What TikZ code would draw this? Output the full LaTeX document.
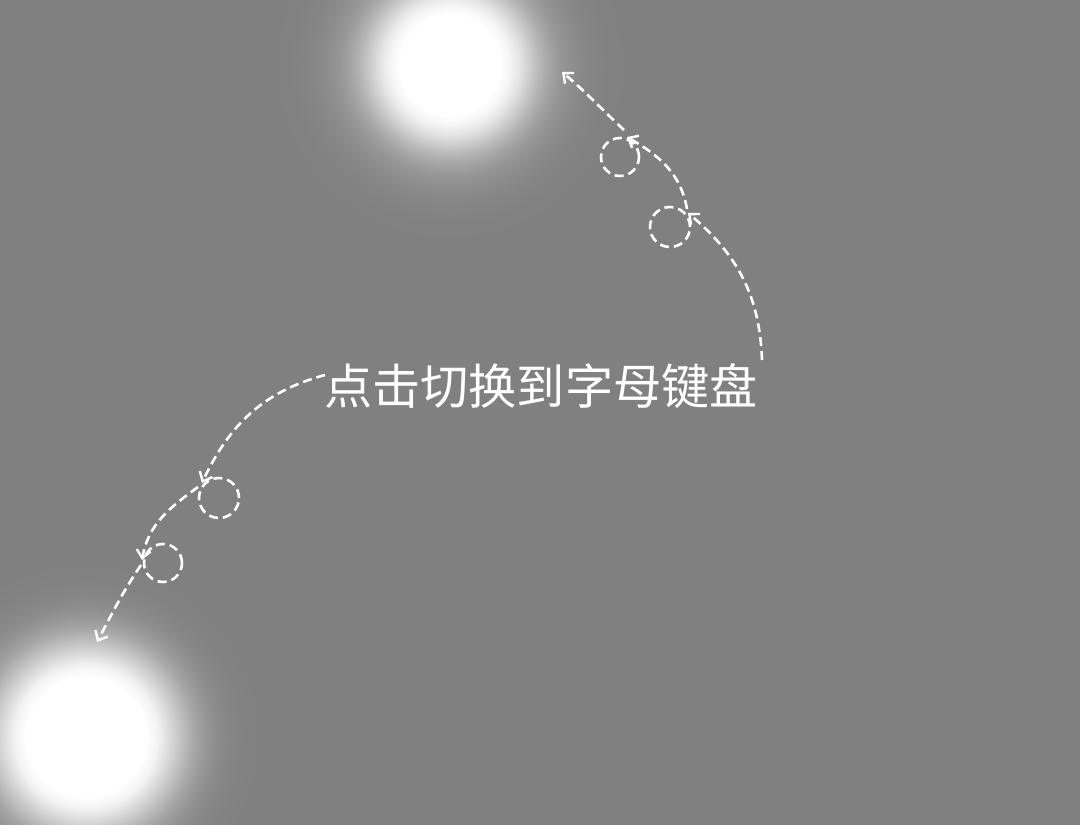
\documentclass[tikz,border=0pt]{standalone}
\usepackage{fontspec}
\newfontfamily\cjk{Noto Sans CJK SC}
\usetikzlibrary{arrows.meta}
\definecolor{bgc}{HTML}{808080}
\pgfdeclareradialshading{glowA}{\pgfpoint{0bp}{0bp}}{color(0bp)=(white); color(6.94bp)=(white); color(8.33bp)=(white!92!bgc); color(9.72bp)=(white!78!bgc); color(11.1bp)=(white!60!bgc); color(12.5bp)=(white!42!bgc); color(13.9bp)=(white!28!bgc); color(15.3bp)=(white!18!bgc); color(17.4bp)=(white!9!bgc); color(19.4bp)=(white!4!bgc); color(22.2bp)=(white!1!bgc); color(25bp)=(bgc); color(50bp)=(bgc)}
\pgfdeclareradialshading{glowB}{\pgfpoint{0bp}{0bp}}{color(0bp)=(white); color(8.57bp)=(white); color(10.29bp)=(white!90!bgc); color(12bp)=(white!70!bgc); color(13.71bp)=(white!50!bgc); color(15.43bp)=(white!31!bgc); color(17.14bp)=(white!18!bgc); color(18.86bp)=(white!9!bgc); color(20.57bp)=(white!4!bgc); color(22.29bp)=(white!2!bgc); color(25bp)=(bgc); color(50bp)=(bgc)}
\tikzset{
  dashline/.style={white, line width=2.6pt, dash pattern=on 9pt off 5pt, line cap=butt,
    -{Straight Barb[length=8pt,width=14pt,line width=2.4pt]}},
  loopc/.style={white, line width=2.6pt, dash pattern=on 9pt off 5pt},
  glownode/.style={circle, minimum size=#1, inner sep=0pt},
}
\begin{document}
\begin{tikzpicture}[x=1pt,y=1pt]
\fill[bgc] (0,0) rectangle (1080,-825);
\useasboundingbox (0,0) rectangle (1080,-825);
\clip (0,0) rectangle (1080,-825);
% glows
\node[glownode=360pt, shading=glowA] (glowtop) at (450,-65) {};
\node[glownode=350pt, shading=glowB] (glowbot) at (86,-737) {};
% label
\node[text=white, font=\cjk\fontsize{48.2}{50}\selectfont, inner sep=0pt, anchor=base] (label) at (541,-404) {点击切换到字母键盘};
% upper route
\coordinate (u0) at (762,-360);
\coordinate (u1) at (688,-213);
\coordinate (u1s) at (687,-209);
\coordinate (u2) at (627,-137);
\coordinate (u2s) at (624,-130);
\coordinate (utip) at (562,-72);
\node[circle, inner sep=0pt, minimum size=40pt] (uc1) at (670,-227) {};
\node[circle, inner sep=0pt, minimum size=38pt] (uc2) at (620,-157) {};
\draw[loopc] (uc1.center) circle (20pt);
\draw[loopc] (uc2.center) circle (19pt);
\draw[dashline] (u0) to[out=92,in=-40] (u1);
\draw[dashline] (u1s) to[out=100,in=-30] (u2);
\draw[dashline] (u2s) to[out=137,in=-40] (utip);
% lower route
\coordinate (l0) at (325,-375);
\coordinate (l1) at (202,-483);
\coordinate (l1s) at (198,-487);
\coordinate (l2) at (142,-560);
\coordinate (l2s) at (141,-565);
\coordinate (ltip) at (97,-642);
\node[circle, inner sep=0pt, minimum size=40pt] (lc1) at (219,-498) {};
\node[circle, inner sep=0pt, minimum size=38pt] (lc2) at (163,-563) {};
\draw[loopc] (lc1.center) circle (20pt);
\draw[loopc] (lc2.center) circle (19pt);
\draw[dashline] (l0) to[out=195,in=65] (l1);
\draw[dashline] (l1s) to[out=216,in=80] (l2);
\draw[dashline] (l2s) to[out=236,in=62] (ltip);
\end{tikzpicture}
\end{document}
